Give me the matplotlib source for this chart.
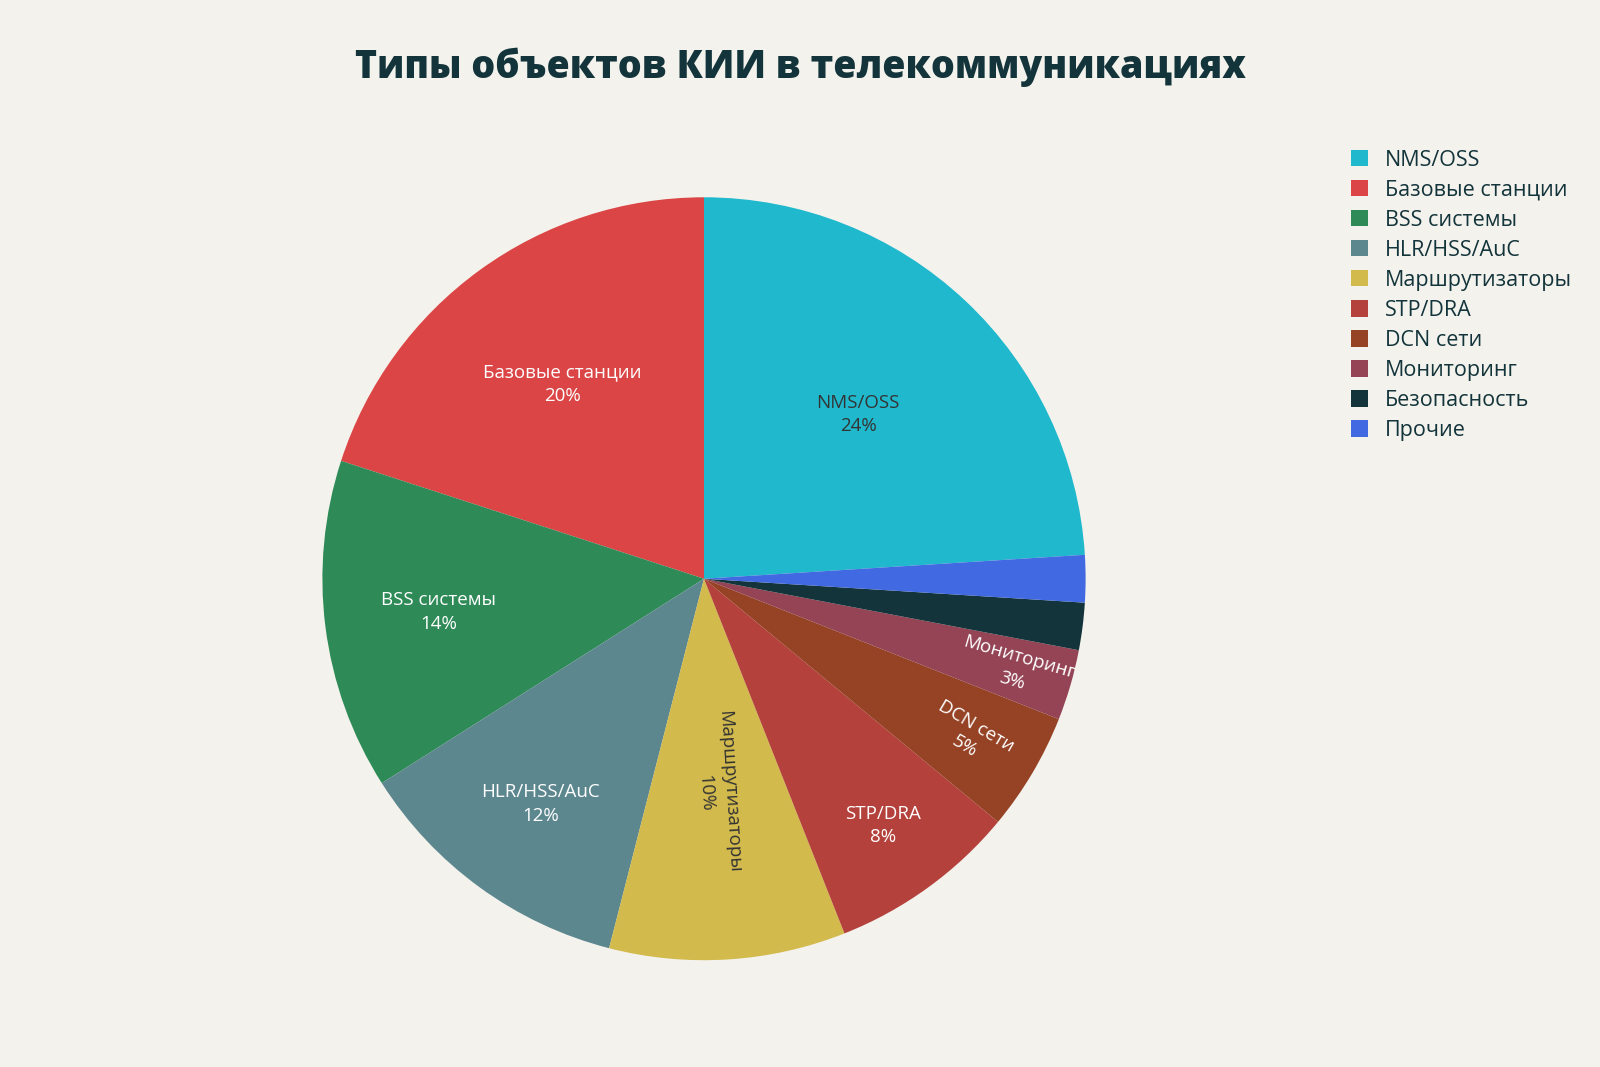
import matplotlib
matplotlib.use("Agg")
import matplotlib.pyplot as plt
import numpy as np

labels = ["NMS/OSS", "Базовые станции", "BSS системы", "HLR/HSS/AuC", "Маршрутизаторы",
          "STP/DRA", "DCN сети", "Мониторинг", "Безопасность", "Прочие"]
values = [24, 20, 14, 12, 10, 8, 5, 3, 2, 2]
colors = ["#1FB8CD", "#DB4545", "#2E8B57", "#5D878F", "#D2BA4C",
          "#B4413C", "#964325", "#944454", "#13343B", "#4169E1"]
text_colors = ["#333333", "white", "white", "white", "#333333",
               "white", "white", "white", None, None]
label_dist = [0.59, 0.63, 0.70, 0.73, 0.56, 0.80, 0.81, 0.85, 0, 0]
rotate = [False, False, False, False, True, False, True, True, False, False]

bg = "#F3F2EC"
plt.rcParams['font.family'] = ['Open Sans', 'DejaVu Sans']

fig = plt.figure(figsize=(16, 10.67), dpi=100)
fig.patch.set_facecolor(bg)
ax = fig.add_axes([0.2015, 0.1001, 0.477, 0.715])
ax.set_facecolor(bg)

total = sum(values)
start = 90 - 360 * values[0] / total
wedges, _ = ax.pie(values, colors=colors, startangle=start, counterclock=True,
                   wedgeprops=dict(linewidth=0))

for w, lab, v, tc, d, rot in zip(wedges, labels, values, text_colors, label_dist, rotate):
    if tc is None:
        continue
    mid = (w.theta1 + w.theta2) / 2
    x = d * np.cos(np.radians(mid))
    y = d * np.sin(np.radians(mid))
    ang = ((mid + 180) % 360) - 180
    r = ang if rot else 0
    ax.text(x, y, f"{lab}\n{v}%", ha="center", va="center", color=tc,
            fontsize=13.5, rotation=r, rotation_mode="anchor", linespacing=1.4)

ax.set_aspect("auto")
ax.set_xlim(-1, 1)
ax.set_ylim(-1, 1)

fig.suptitle("Типы объектов КИИ в телекоммуникациях", x=0.5, y=0.955,
             fontsize=27, fontweight="heavy", color="#13343B")

fig.legend(wedges, labels, loc="upper left", bbox_to_anchor=(0.832, 0.878),
           frameon=False, fontsize=15.5, handlelength=0.8, handleheight=0.8,
           labelspacing=0.42, labelcolor="#13343B")

fig.savefig("out.png", facecolor=bg)
